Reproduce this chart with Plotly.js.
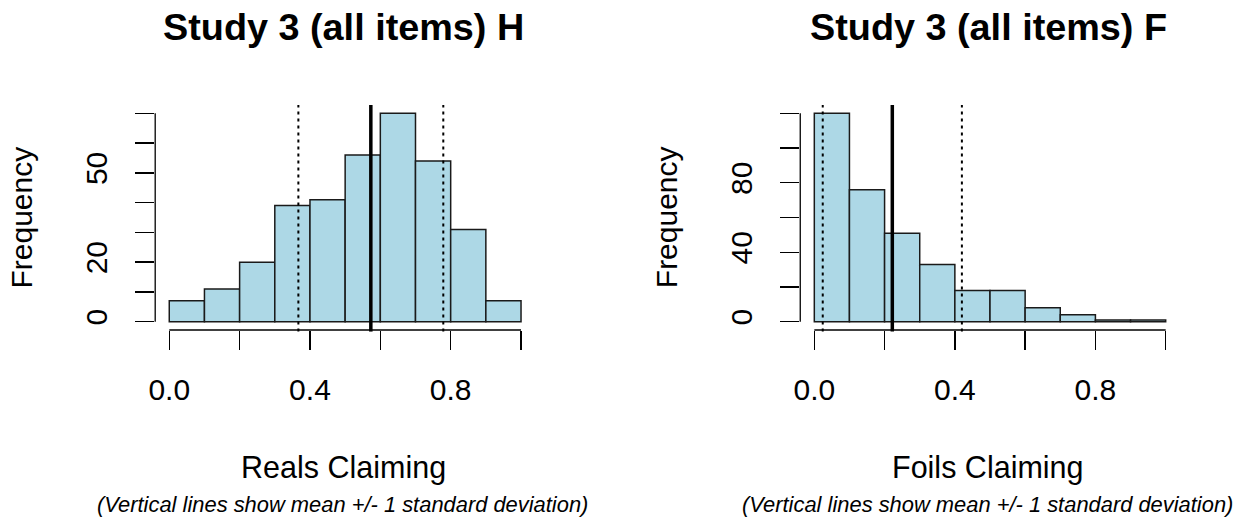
<!DOCTYPE html>
<html>
<head>
<meta charset="utf-8">
<script src="https://cdn.plot.ly/plotly-3.0.1.min.js"></script>
<style>html,body{margin:0;padding:0;background:#fff;}#chart{width:1250px;height:525px;}</style>
</head>
<body>
<div id="chart"></div>
<script>
// ---- data ----
const binCenters = [0.05, 0.15, 0.25, 0.35, 0.45, 0.55, 0.65, 0.75, 0.85, 0.95];
const binWidth = 0.1;
const realsCounts = [7, 11, 20, 39, 41, 56, 70, 54, 31, 7];
const foilsCounts = [120, 76, 51, 33, 18, 18, 8, 4, 1, 1];
const realsMean = 0.573, realsSD = 0.206;
const foilsMean = 0.222, foilsSD = 0.198;
const xTickVals = [0, 0.2, 0.4, 0.6, 0.8, 1.0];
const xTickText = ['0.0', '', '0.4', '', '0.8', ''];
const yTickValsH = [0, 10, 20, 30, 40, 50, 60, 70];
const yTickTextH = ['0', '', '20', '', '', '50', '', ''];
const yTickValsF = [0, 20, 40, 60, 80, 100, 120];
const yTickTextF = ['0', '', '40', '', '80', '', ''];
const titles = ['Study 3 (all items) H', 'Study 3 (all items) F'];
const xTitles = ['Reals Claiming', 'Foils Claiming'];
const yTitle = 'Frequency';
const subText = '(Vertical lines show mean +/- 1 standard deviation)';

// ---- layout helpers ----
const W = 1250, H = 525;
const FONT = '"Liberation Sans", Arial, sans-serif';
const yDom = [(H - 330) / H, (H - 105) / H];
const xDomL = [155.2 / W, 535.1 / W];
const xDomR = [800.25 / W, 1179.75 / W];

function xaxis(dom, anchor) {
  return {
    domain: dom, anchor: anchor, range: [-0.04, 1.04],
    tickvals: xTickVals, ticktext: xTickText,
    ticks: 'outside', ticklen: 19, tickwidth: 1.3, tickcolor: '#000',
    showline: false, showgrid: false, zeroline: false,
    tickfont: {family: FONT, size: 30, color: '#000'},
    ticklabelstandoff: 14, fixedrange: true
  };
}
function yaxis(anchor, max, vals, text) {
  const pad = max * 0.04;
  return {
    domain: yDom, anchor: anchor, range: [-pad, max + pad],
    tickvals: vals, ticktext: text, tickangle: -90,
    ticks: 'outside', ticklen: 19, tickwidth: 1.3, tickcolor: '#000',
    showline: false, showgrid: false, zeroline: false,
    tickfont: {family: FONT, size: 30, color: '#000'},
    ticklabelstandoff: 16, fixedrange: true
  };
}

const barStyle = {color: '#ADD8E6', line: {color: '#1a1a1a', width: 1.5}};
const traces = [
  {type: 'bar', x: binCenters, y: realsCounts, width: binWidth, marker: barStyle, xaxis: 'x', yaxis: 'y', hoverinfo: 'skip'},
  {type: 'bar', x: binCenters, y: foilsCounts, width: binWidth, marker: barStyle, xaxis: 'x2', yaxis: 'y2', hoverinfo: 'skip'}
];

function vline(xref, x, solid) {
  return {type: 'line', xref: xref, yref: 'paper', x0: x, x1: x, y0: yDom[0] - 0.003, y1: yDom[1],
    line: solid ? {color: '#000', width: 3.5} : {color: '#000', width: 2, dash: '3px,4px'}};
}
function axisLines(xr, yr, xDom, ymax) {
  return [
    {type: 'line', xref: xr, yref: 'paper', x0: 0, x1: 1, y0: yDom[0], y1: yDom[0], line: {color: '#000', width: 1.3}},
    {type: 'line', xref: 'paper', yref: yr, x0: xDom[0], x1: xDom[0], y0: 0, y1: ymax, line: {color: '#000', width: 1.3}}
  ];
}
const shapes = [
  ...axisLines('x', 'y', xDomL, 70),
  ...axisLines('x2', 'y2', xDomR, 120),
  vline('x', realsMean, true), vline('x', realsMean - realsSD, false), vline('x', realsMean + realsSD, false),
  vline('x2', foilsMean, true), vline('x2', foilsMean - foilsSD, false), vline('x2', foilsMean + foilsSD, false)
];

const cx = [(xDomL[0] + xDomL[1]) / 2, (xDomR[0] + xDomR[1]) / 2];
const annotations = [];
for (let i = 0; i < 2; i++) {
  annotations.push({xref: 'paper', yref: 'paper', x: cx[i] - 2 / W, y: 1 - 27 / H, xanchor: 'center', yanchor: 'middle',
    text: '<b>' + titles[i] + '</b>', showarrow: false, font: {family: FONT, size: 37.8, color: '#000'}});
  annotations.push({xref: 'paper', yref: 'paper', x: cx[i] - 2 / W, y: (H - 467) / H, xanchor: 'center', yanchor: 'middle',
    text: xTitles[i], showarrow: false, font: {family: FONT, size: 30.5, color: '#000'}});
  annotations.push({xref: 'paper', yref: 'paper', x: cx[i] - 3 / W, y: (H - 504) / H, xanchor: 'center', yanchor: 'middle',
    text: '<i>' + subText + '</i>', showarrow: false, font: {family: FONT, size: 21.9, color: '#000'}});
}
annotations.push({xref: 'paper', yref: 'paper', x: 21 / W, y: (H - 217.5) / H, xanchor: 'center', yanchor: 'middle',
  text: yTitle, textangle: -90, showarrow: false, font: {family: FONT, size: 30, color: '#000'}});
annotations.push({xref: 'paper', yref: 'paper', x: 666.7 / W, y: (H - 217.5) / H, xanchor: 'center', yanchor: 'middle',
  text: yTitle, textangle: -90, showarrow: false, font: {family: FONT, size: 30, color: '#000'}});

const layout = {
  width: W, height: H, margin: {l: 0, r: 0, t: 0, b: 0},
  paper_bgcolor: '#fff', plot_bgcolor: '#fff', showlegend: false, bargap: 0,
  xaxis: xaxis(xDomL, 'y'), yaxis: yaxis('x', 70, yTickValsH, yTickTextH),
  xaxis2: xaxis(xDomR, 'y2'), yaxis2: yaxis('x2', 120, yTickValsF, yTickTextF),
  shapes: shapes, annotations: annotations
};
Plotly.newPlot('chart', traces, layout, {staticPlot: true, displayModeBar: false});
</script>
</body>
</html>
